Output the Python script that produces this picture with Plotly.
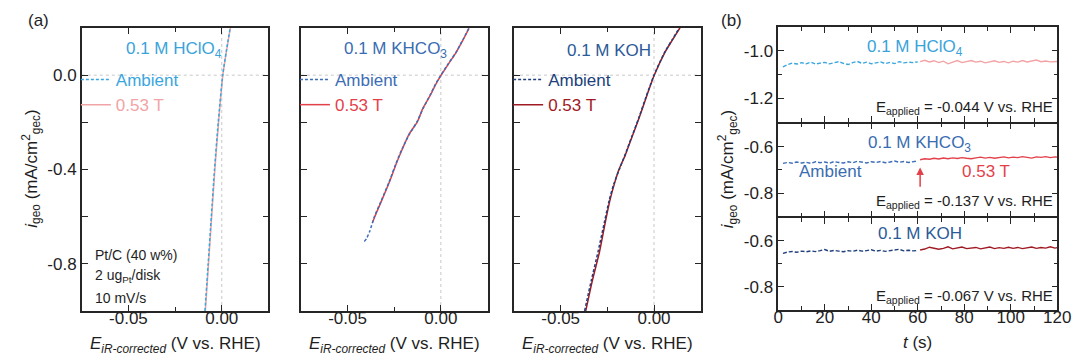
import plotly.graph_objects as go

# ---------------- DATA ----------------
# Panel (a): LSV curves, E (V vs RHE) and i (mA/cm2)
hclo4_i_amb = [-1.0, -0.8, -0.6, -0.4, -0.2, 0.0, 0.1, 0.2]
hclo4_E_amb = [-0.0090, -0.0073, -0.0056, -0.0039, -0.0019, 0.0005, 0.0024, 0.0045]
hclo4_i_fld = [-1.0, -0.8, -0.6, -0.4, -0.2, 0.0, 0.1, 0.2]
hclo4_E_fld = [-0.0088, -0.0071, -0.0054, -0.0037, -0.0017, 0.0006, 0.0025, 0.0046]

khco3_i_amb = [-0.705, -0.693, -0.66, -0.60, -0.53, -0.452, -0.38, -0.311, -0.25, -0.198, -0.14, -0.085, -0.04, 0.0, 0.05, 0.099, 0.15, 0.198]
khco3_E_amb = [-0.0410, -0.0398, -0.0380, -0.0356, -0.0318, -0.0277, -0.0243, -0.0207, -0.0168, -0.0128, -0.0094, -0.0058, -0.0030, 0.0, 0.0041, 0.0083, 0.0118, 0.0149]
khco3_i_fld = [-0.625, -0.60, -0.53, -0.452, -0.38, -0.311, -0.25, -0.198, -0.14, -0.085, -0.04, 0.0, 0.05, 0.099, 0.15, 0.198]
khco3_E_fld = [-0.0366, -0.0354, -0.0316, -0.0275, -0.0241, -0.0205, -0.0170, -0.0126, -0.0096, -0.0056, -0.0028, 0.0002, 0.0043, 0.0084, 0.0119, 0.0151]

koh_i_amb = [-1.0, -0.87, -0.749, -0.62, -0.53, -0.46, -0.40, -0.339, -0.26, -0.184, -0.09, 0.0, 0.099, 0.15, 0.201]
koh_E_amb = [-0.0372, -0.0336, -0.0300, -0.0265, -0.0240, -0.0215, -0.0186, -0.0156, -0.0119, -0.0083, -0.0042, 0.0, 0.0058, 0.0097, 0.0136]
koh_i_fld = [-1.0, -0.87, -0.749, -0.62, -0.53, -0.46, -0.40, -0.339, -0.26, -0.184, -0.09, 0.0, 0.099, 0.15, 0.201]
koh_E_fld = [-0.0366, -0.0330, -0.0292, -0.0260, -0.0236, -0.0212, -0.0188, -0.0154, -0.0117, -0.0081, -0.0040, 0.0001, 0.0060, 0.0099, 0.0139]

# Panel (b): chronoamperometry, t (s) and i (mA/cm2)
t_amb = [2, 4, 6, 8, 10, 12, 14, 16, 18, 20, 22, 24, 26, 28, 30, 32, 34, 36, 38, 40,
         42, 44, 46, 48, 50, 52, 54, 56, 58, 60]
t_fld = [61, 63, 65, 67, 69, 71, 73, 75, 77, 79, 81, 83, 85, 87, 89, 91, 93, 95, 97, 99,
         101, 103, 105, 107, 109, 111, 113, 115, 117, 119, 120]

hclo4_amb = [-1.068, -1.058, -1.052, -1.056, -1.050, -1.055, -1.048, -1.056, -1.052, -1.049,
             -1.055, -1.051, -1.046, -1.053, -1.058, -1.050, -1.045, -1.053, -1.048, -1.055,
             -1.050, -1.047, -1.054, -1.049, -1.054, -1.046, -1.051, -1.048, -1.050, -1.047]
hclo4_fld = [-1.046, -1.040, -1.047, -1.042, -1.050, -1.044, -1.055, -1.047, -1.041, -1.050,
             -1.046, -1.041, -1.048, -1.044, -1.051, -1.046, -1.042, -1.049, -1.045, -1.051,
             -1.044, -1.048, -1.041, -1.047, -1.044, -1.039, -1.046, -1.043, -1.047, -1.044, -1.045]

khco3_amb = [-0.672, -0.668, -0.671, -0.666, -0.670, -0.667, -0.672, -0.665, -0.669, -0.666,
             -0.671, -0.664, -0.668, -0.670, -0.665, -0.669, -0.663, -0.667, -0.670, -0.665,
             -0.668, -0.664, -0.669, -0.666, -0.662, -0.667, -0.664, -0.668, -0.663, -0.661]
khco3_fld = [-0.656, -0.652, -0.654, -0.650, -0.653, -0.649, -0.652, -0.648, -0.651, -0.647,
             -0.650, -0.652, -0.648, -0.645, -0.649, -0.646, -0.650, -0.647, -0.644, -0.648,
             -0.645, -0.647, -0.643, -0.646, -0.649, -0.644, -0.646, -0.643, -0.647, -0.644, -0.645]

koh_amb = [-0.655, -0.649, -0.647, -0.650, -0.645, -0.648, -0.644, -0.647, -0.643, -0.638,
           -0.646, -0.642, -0.645, -0.648, -0.643, -0.646, -0.641, -0.645, -0.643, -0.639,
           -0.645, -0.642, -0.646, -0.643, -0.640, -0.637, -0.644, -0.641, -0.644, -0.642]
koh_fld = [-0.640, -0.636, -0.628, -0.634, -0.637, -0.633, -0.626, -0.635, -0.631, -0.627,
           -0.634, -0.632, -0.629, -0.635, -0.631, -0.627, -0.634, -0.630, -0.633, -0.628,
           -0.633, -0.629, -0.634, -0.630, -0.627, -0.633, -0.629, -0.632, -0.626, -0.632, -0.630]

arrow_t = 61
arrow_y = [-0.779, -0.690]

# tick labels (hyphen-minus as in the reference)
a_xtick_vals = [-0.05, 0.0]
a_xtick_text = ["-0.05", "0.00"]
a_ytick_vals = [-0.8, -0.4, 0.0]
a_ytick_text = ["-0.8", "-0.4", "0.0"]
b_xtick_vals = [0, 20, 40, 60, 80, 100, 120]
b_xtick_text = ["0", "20", "40", "60", "80", "100", "120"]
b_ytick_vals_top = [-1.2, -1.0]
b_ytick_text_top = ["-1.2", "-1.0"]
b_ytick_vals_low = [-0.8, -0.6]
b_ytick_text_low = ["-0.8", "-0.6"]

# ---------------- STYLE ----------------
W, H = 1080, 358
FONT = "Arial, Liberation Sans, sans-serif"
AX = "#262626"
TXT = "#1e1e1e"

C_H_AMB, C_H_FLD, C_H_TXT = "#3aa6de", "#f2a3a5", "#3aa3da"
C_K_AMB, C_K_FLD, C_K_TXT = "#3c6db6", "#e3414a", "#3a6cb2"
C_O_AMB, C_O_FLD, C_O_TXT = "#203f7c", "#a01a24", "#2b5a98"

def px_x(p):
    return p / W

def px_y(p):
    return 1 - p / H

fig = go.Figure()

LW = 1.5
a_dom = [(70, 260), (293, 483), (510, 700)]
a_top, a_bot = 20, 303
b_x = (779, 1063)
b_rows = [(19, 114), (114 + LW, 208.3), (208.3 + LW, 301.7)]

axis_common = dict(showline=True, linecolor=AX, linewidth=LW, mirror="ticks",
                   ticks="inside", ticklen=6, tickwidth=1.3, tickcolor=AX,
                   showgrid=False, zeroline=False,
                   tickfont=dict(family=FONT, size=17, color=TXT))

layout = dict(width=W, height=H, margin=dict(l=0, r=0, t=0, b=0),
              paper_bgcolor="white", plot_bgcolor="white",
              font=dict(family=FONT, color=TXT), showlegend=True)

for k, (l, r) in enumerate(a_dom):
    xn = "xaxis" if k == 0 else f"xaxis{k+1}"
    yn = "yaxis" if k == 0 else f"yaxis{k+1}"
    ya = "y" if k == 0 else f"y{k+1}"
    xa = "x" if k == 0 else f"x{k+1}"
    layout[xn] = dict(axis_common, domain=[px_x(l), px_x(r)], anchor=ya,
                      range=[-0.075, 0.025], tickmode="array",
                      tickvals=a_xtick_vals, ticktext=a_xtick_text,
                      ticklabelstandoff=-9,
                      minor=dict(dtick=0.025, tick0=0, ticks="inside", ticklen=4, tickcolor=AX))
    layout[yn] = dict(axis_common, domain=[px_y(a_bot), px_y(a_top)], anchor=xa,
                      range=[-1.0, 0.2], tickmode="array",
                      tickvals=a_ytick_vals, ticktext=a_ytick_text,
                      showticklabels=(k == 0),
                      minor=dict(dtick=0.2, tick0=0, ticks="inside", ticklen=6, tickcolor=AX))

for k, (t, b) in enumerate(b_rows):
    idx = 4 + k
    xn, yn = f"xaxis{idx}", f"yaxis{idx}"
    layout[xn] = dict(axis_common, domain=[px_x(b_x[0]), px_x(b_x[1])], anchor=f"y{idx}",
                      range=[0, 120], tickmode="array",
                      tickvals=b_xtick_vals, ticktext=b_xtick_text,
                      showticklabels=(k == 2), ticklabelstandoff=-9,
                      minor=dict(dtick=10, tick0=0, ticks="inside", ticklen=4, tickcolor=AX))
    if k == 0:
        rng, tv, tt = [-1.3, -0.9], b_ytick_vals_top, b_ytick_text_top
    else:
        rng, tv, tt = [-0.9, -0.5], b_ytick_vals_low, b_ytick_text_low
    layout[yn] = dict(axis_common, domain=[px_y(b), px_y(t)], anchor=f"x{idx}",
                      range=rng, tickmode="array", tickvals=tv, ticktext=tt,
                      minor=dict(dtick=0.1, tick0=0, ticks="inside", ticklen=4, tickcolor=AX))

for k, (l, r) in enumerate(a_dom):
    ln = "legend" if k == 0 else f"legend{k+1}"
    layout[ln] = dict(x=px_x(l - 6), y=px_y(54), xanchor="left", yanchor="top",
                      bgcolor="rgba(0,0,0,0)", borderwidth=0,
                      font=dict(family=FONT, size=17), itemwidth=30,
                      tracegroupgap=0, traceorder="normal")

fig.update_layout(**layout)

# dotted reference lines in panel (a)
for k in range(3):
    xa = "x" if k == 0 else f"x{k+1}"
    ya = "y" if k == 0 else f"y{k+1}"
    fig.add_shape(type="line", xref=f"{xa} domain", yref=ya, x0=0, x1=1, y0=0, y1=0,
                  line=dict(color="#c8c8c8", width=1, dash="dot"), layer="below")
    fig.add_shape(type="line", xref=xa, yref=f"{ya} domain", x0=0, x1=0, y0=0, y1=1,
                  line=dict(color="#c8c8c8", width=1, dash="dot"), layer="below")

sets_a = [
    (hclo4_E_amb, hclo4_i_amb, hclo4_E_fld, hclo4_i_fld, C_H_AMB, C_H_FLD),
    (khco3_E_amb, khco3_i_amb, khco3_E_fld, khco3_i_fld, C_K_AMB, C_K_FLD),
    (koh_E_amb, koh_i_amb, koh_E_fld, koh_i_fld, C_O_AMB, C_O_FLD),
]
for k, (ea, ia, ef, i_f, ca, cf) in enumerate(sets_a):
    xa = "x" if k == 0 else f"x{k+1}"
    ya = "y" if k == 0 else f"y{k+1}"
    ln = "legend" if k == 0 else f"legend{k+1}"
    fig.add_trace(go.Scatter(x=ef, y=i_f, mode="lines", xaxis=xa, yaxis=ya, legend=ln,
                             line=dict(color=cf, width=1.5, shape="spline", smoothing=0.6),
                             name=f"<span style='color:{cf}'>0.53 T</span>", legendrank=2))
    fig.add_trace(go.Scatter(x=ea, y=ia, mode="lines", xaxis=xa, yaxis=ya, legend=ln,
                             line=dict(color=ca, width=1.5, dash="3px,2px", shape="spline", smoothing=0.6),
                             name=f"<span style='color:{ca}'>Ambient</span>", legendrank=1))

sets_b = [
    (hclo4_amb, hclo4_fld, C_H_AMB, C_H_FLD),
    (khco3_amb, khco3_fld, C_K_AMB, C_K_FLD),
    (koh_amb, koh_fld, C_O_AMB, C_O_FLD),
]
for k, (ya_, yf_, ca, cf) in enumerate(sets_b):
    idx = 4 + k
    fig.add_trace(go.Scatter(x=t_amb, y=ya_, mode="lines", xaxis=f"x{idx}", yaxis=f"y{idx}",
                             line=dict(color=ca, width=1.4, dash="4px,2px"), showlegend=False))
    fig.add_trace(go.Scatter(x=t_fld, y=yf_, mode="lines", xaxis=f"x{idx}", yaxis=f"y{idx}",
                             line=dict(color=cf, width=1.4), showlegend=False))

fig.add_annotation(x=arrow_t, y=arrow_y[1], ax=arrow_t, ay=arrow_y[0], xref="x5", yref="y5",
                   axref="x5", ayref="y5", showarrow=True, arrowhead=2, arrowsize=1,
                   arrowwidth=1.5, arrowcolor=C_K_FLD, text="")

def ann(text, x, y, size=17, color=TXT, xanchor="center", yanchor="middle", textangle=0,
        xref="paper", yref="paper"):
    fig.add_annotation(text=text, x=x, y=y, xref=xref, yref=yref, showarrow=False,
                       xanchor=xanchor, yanchor=yanchor, textangle=textangle,
                       font=dict(family=FONT, size=size, color=color))

ann("(a)", px_x(13), px_y(13), xanchor="left")
ann("(b)", px_x(719), px_y(13), xanchor="left")

ann("0.1 M HClO<sub>4</sub>", px_x(164), px_y(42), color=C_H_TXT)
ann("0.1 M KHCO<sub>3</sub>", px_x(389), px_y(42), color=C_K_TXT)
ann("0.1 M KOH", px_x(607), px_y(42), color=C_O_TXT)

ann("Pt/C (40 w%)", px_x(81), px_y(247), size=14, xanchor="left")
ann("2 ug<sub>Pt</sub>/disk", px_x(81), px_y(268), size=14, xanchor="left")
ann("10 mV/s", px_x(81), px_y(290), size=14, xanchor="left")

xt = "<i>E</i><sub><i>iR-corrected</i></sub> (V vs. RHE)"
for (l, r) in a_dom:
    ann(xt, px_x((l + r) / 2), px_y(337))

yt = "<i>i</i><sub>geo</sub> (mA/cm<sup>2</sup><sub>gec</sub>)"
ann(yt, px_x(18), px_y(161), textangle=-90)
ann(yt, px_x(727), px_y(161), textangle=-90)

ann("0.1 M HClO<sub>4</sub>", px_x(918), px_y(40), color=C_H_TXT)
ann("E<sub>applied</sub> = -0.044 V vs. RHE", px_x(1061), px_y(99), size=15, xanchor="right")
ann("0.1 M KHCO<sub>3</sub>", px_x(923), px_y(136), color=C_K_TXT)
ann("Ambient", px_x(832), px_y(163), color=C_K_TXT)
ann("0.53 T", px_x(990), px_y(163), color=C_K_FLD)
ann("E<sub>applied</sub> = -0.137 V vs. RHE", px_x(1061), px_y(193), size=15, xanchor="right")
ann("0.1 M KOH", px_x(923), px_y(225), color=C_O_TXT)
ann("E<sub>applied</sub> = -0.067 V vs. RHE", px_x(1061), px_y(288), size=15, xanchor="right")
ann("<i>t</i> (s)", px_x(921), px_y(334))

fig.write_html("out.html")
